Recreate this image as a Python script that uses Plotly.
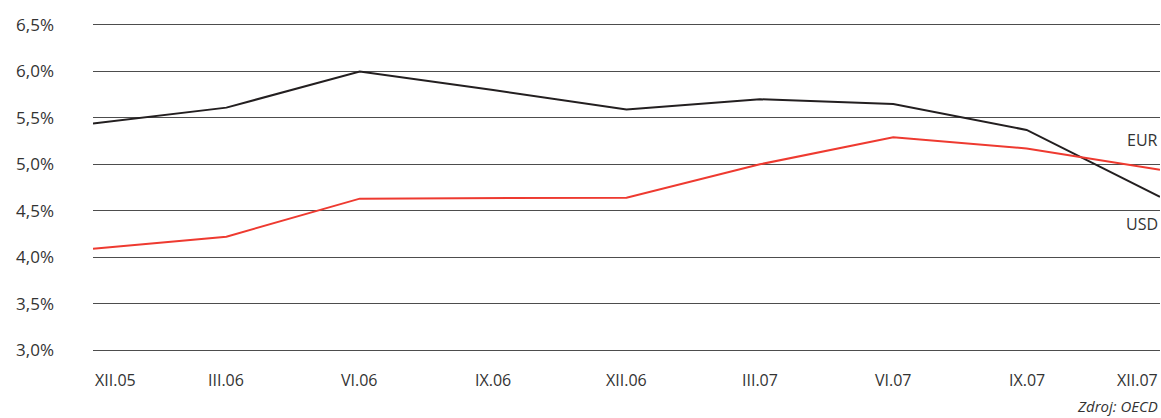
import plotly.graph_objects as go

categories = ["XII.05", "III.06", "VI.06", "IX.06", "XII.06", "III.07", "VI.07", "IX.07", "XII.07"]
usd = [5.44, 5.61, 6.00, 5.80, 5.59, 5.70, 5.65, 5.37, 4.65]
eur = [4.09, 4.22, 4.63, 4.635, 4.64, 5.00, 5.29, 5.17, 4.94]
y_tick_vals = [3.0, 3.5, 4.0, 4.5, 5.0, 5.5, 6.0, 6.5]
y_tick_labels = ["3,0%", "3,5%", "4,0%", "4,5%", "5,0%", "5,5%", "6,0%", "6,5%"]
source_text = "Zdroj: OECD"

FONT = "Open Sans"
TXT = "#333333"
GRID = "#4d4d4d"

fig = go.Figure()
fig.add_trace(go.Scatter(x=categories, y=usd, mode="lines", name="USD",
                         line=dict(color="#231f20", width=2), hoverinfo="skip"))
fig.add_trace(go.Scatter(x=categories, y=eur, mode="lines", name="EUR",
                         line=dict(color="#ee3a30", width=2), hoverinfo="skip"))

annotations = []
n = len(categories)
for i, c in enumerate(categories):
    anchor = "left" if i == 0 else ("right" if i == n - 1 else "center")
    annotations.append(dict(x=i, xref="x", y=0, yref="paper", yanchor="top",
                            xanchor=anchor, yshift=-17, text=c, showarrow=False,
                            font=dict(family=FONT, size=16, color=TXT)))

annotations.append(dict(x=n - 1, xref="x", y=5.26, yref="y", xanchor="right",
                        yanchor="middle", text="EUR", showarrow=False,
                        font=dict(family=FONT, size=16, color=TXT)))
annotations.append(dict(x=n - 1, xref="x", y=4.36, yref="y", xanchor="right",
                        yanchor="middle", text="USD", showarrow=False,
                        font=dict(family=FONT, size=16, color=TXT)))
annotations.append(dict(x=1, xref="paper", y=0, yref="paper", xanchor="right",
                        yanchor="top", yshift=-44, text="<i>" + source_text + "</i>",
                        showarrow=False, font=dict(family=FONT, size=15, color=TXT)))

fig.update_layout(
    width=1161, height=418,
    margin=dict(l=93, r=1, t=25, b=68),
    paper_bgcolor="white", plot_bgcolor="white",
    showlegend=False,
    font=dict(family=FONT, size=16, color=TXT),
    annotations=annotations,
    xaxis=dict(type="category", range=[0, n - 1], showgrid=False, showticklabels=False,
               showline=True, mirror=True, linecolor=GRID, linewidth=1,
               zeroline=False, ticks=""),
    yaxis=dict(range=[3.0, 6.5], tickvals=y_tick_vals, ticktext=y_tick_labels,
               showgrid=True, gridcolor=GRID, gridwidth=1, zeroline=False,
               showline=False, ticks="", ticklabelstandoff=38,
               tickfont=dict(family=FONT, size=17, color=TXT)),
)

fig.write_html("out.html", config={"displayModeBar": False, "staticPlot": True},
               post_script="document.body.style.margin='0';document.body.style.overflow='hidden';")
